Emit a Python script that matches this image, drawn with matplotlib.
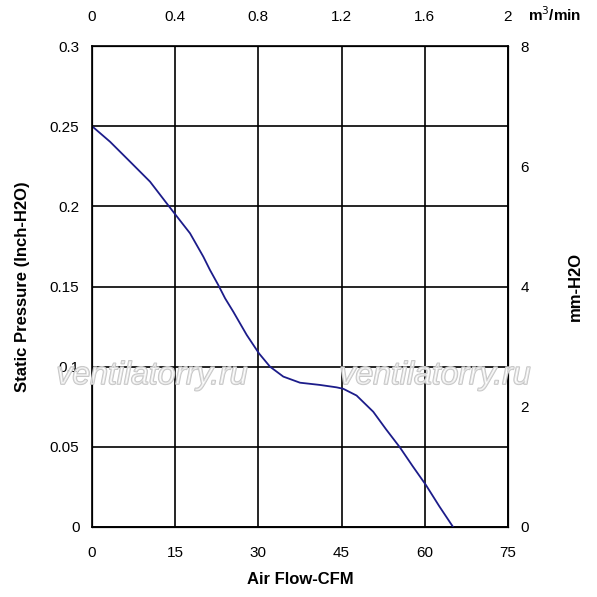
import numpy as np
import matplotlib
matplotlib.use('Agg')
import matplotlib.pyplot as plt
import matplotlib.patheffects as pe

plt.rcParams['font.family'] = ['Liberation Sans', 'DejaVu Sans']

# кривая P-Q вентилятора
flow_cfm = [0, 3.25, 6.85, 10.46, 13.46, 14.96, 17.67, 20.07, 21.27, 22.77, 24.0,
            25.47, 27.89, 30.1, 32.09, 34.49, 37.5, 41.1, 44.1, 45.3, 47.7, 50.7,
            53.0, 55.5, 57.8, 60.2, 62.6, 65.1]
pressure_inh2o = [0.25, 0.2403, 0.2279, 0.2154, 0.2019, 0.1952, 0.1832, 0.1686, 0.1603,
                  0.1509, 0.1426, 0.1343, 0.1198, 0.1083, 0.1, 0.0938, 0.09, 0.0886,
                  0.0871, 0.0862, 0.082, 0.0719, 0.061, 0.0497, 0.038, 0.0262, 0.013,
                  0.0]

x_ticks = [0, 15, 30, 45, 60, 75]
y_ticks = [0, 0.05, 0.1, 0.15, 0.2, 0.25, 0.3]
y_labels = ['0', '0.05', '0.1', '0.15', '0.2', '0.25', '0.3']
top_ticks = [0, 0.4, 0.8, 1.2, 1.6, 2]
top_labels = ['0', '0.4', '0.8', '1.2', '1.6', '2']
right_ticks = [0, 2, 4, 6, 8]

fig = plt.figure(figsize=(5.97, 5.97), dpi=100)
ax = fig.add_axes([92 / 597, 1 - 527 / 597, 416 / 597, 481 / 597])

ax.plot(flow_cfm, pressure_inh2o, color='#1c1c8a', lw=1.3, zorder=3,
        solid_joinstyle='round')
ax.set_xlim(0, 75)
ax.set_ylim(0, 0.3)
ax.set_xticks(x_ticks)
ax.set_yticks(y_ticks)
ax.set_yticklabels(y_labels)
ax.grid(True, color='black', lw=1.2)
for s in ax.spines.values():
    s.set_linewidth(1.2)
ax.tick_params(axis='x', length=0, pad=14, labelsize=11)
ax.tick_params(axis='y', length=0, pad=9, labelsize=11)
ax.set_xlabel('Air Flow-CFM', fontsize=12, fontweight='bold', labelpad=8)
ax.set_ylabel('Static Pressure (Inch-H2O)', fontsize=12, fontweight='bold', labelpad=14)

# верхняя ось м3/мин
ax_top = ax.twiny()
ax_top.set_xlim(0, 2)
ax_top.set_xticks(top_ticks)
ax_top.set_xticklabels(top_labels)
ax_top.tick_params(axis='x', length=0, pad=16, labelsize=11)

# правая ось мм вод. ст.
ax_r = ax.twinx()
ax_r.set_ylim(0, 8)
ax_r.set_yticks(right_ticks)
ax_r.tick_params(axis='y', length=0, pad=9, labelsize=11)
ax_r.set_ylabel('mm-H2O', fontsize=12, fontweight='bold', labelpad=28)

fig.text(555 / 597, 1 - 15 / 597, 'm$^{3}$/min', fontsize=11, fontweight='bold',
         ha='center', va='center')

# водяной знак
for xc in [152, 435]:
    fig.text(xc / 597, 1 - 376 / 597, 'ventilatorry.ru', fontsize=23, style='italic',
             color=(1, 1, 1, 0.5), ha='center', va='center', zorder=10,
             path_effects=[pe.withStroke(linewidth=1.2, foreground='#c4c4c4')])

fig.savefig('out.png', dpi=100)
